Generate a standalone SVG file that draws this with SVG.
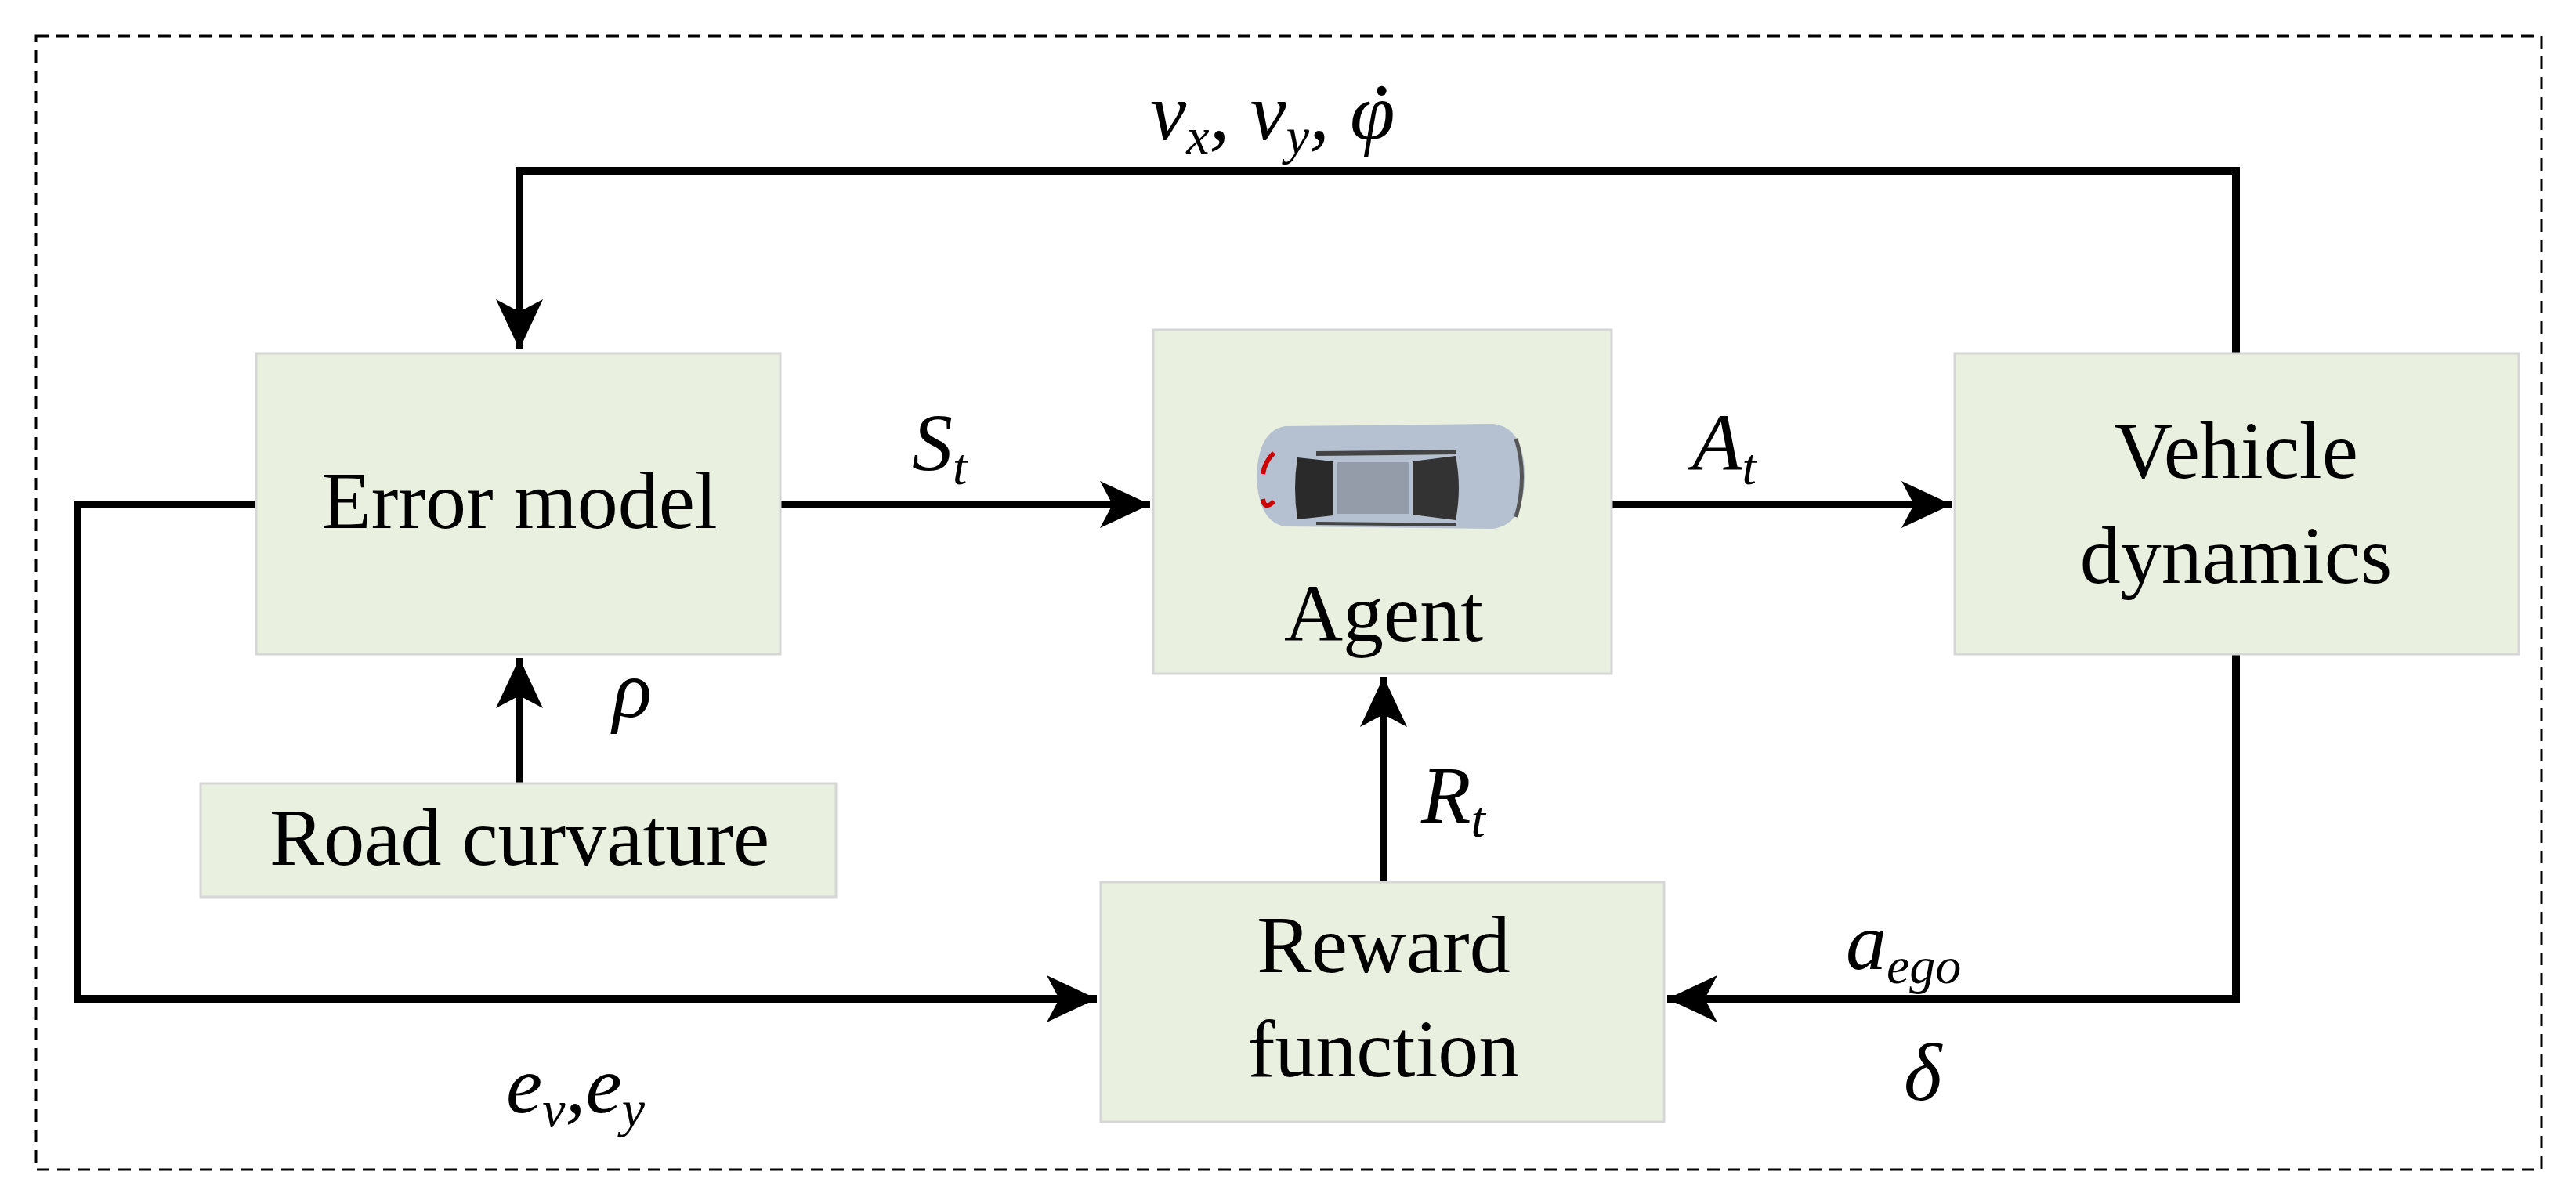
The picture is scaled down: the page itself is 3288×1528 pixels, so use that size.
<svg xmlns="http://www.w3.org/2000/svg" width="3288" height="1528" viewBox="0 0 3288 1528">
<style>
.box{fill:#EAF0DF;stroke:#d6d6d6;stroke-width:3}
.t{font-family:"Liberation Serif",serif;font-size:104px;fill:#000;text-anchor:middle}
.m{font-family:"Liberation Serif",serif;font-style:italic;font-size:104px;fill:#000}
.s{font-size:66px}
.c{fill:none;stroke:#000;stroke-width:10}
</style>
<defs>
<marker id="ah" markerUnits="userSpaceOnUse" markerWidth="66" markerHeight="60" refX="64" refY="30" orient="auto">
<path d="M0,0 L64,30 L0,60 L16,30 Z" fill="#000"/>
</marker>
</defs>
<rect x="46" y="46" width="3198" height="1447" fill="#fff" stroke="#000" stroke-width="3" stroke-dasharray="16,10"/>
<g id="connectors">
<polyline class="c" points="2854,451 2854,218 663,218 663,446" marker-end="url(#ah)"/>
<line class="c" x1="996" y1="644" x2="1468" y2="644" marker-end="url(#ah)"/>
<line class="c" x1="2057" y1="644" x2="2491" y2="644" marker-end="url(#ah)"/>
<line class="c" x1="663" y1="1000" x2="663" y2="840" marker-end="url(#ah)"/>
<line class="c" x1="1766" y1="1126" x2="1766" y2="864" marker-end="url(#ah)"/>
<polyline class="c" points="327,644 99,644 99,1275 1400,1275" marker-end="url(#ah)"/>
<polyline class="c" points="2854,835 2854,1275 2128,1275" marker-end="url(#ah)"/>
</g>
<g id="error-model"><rect class="box" x="327" y="451" width="669" height="384"/><text class="t" x="663" y="674">Error model</text></g>
<g id="agent"><rect class="box" x="1472" y="421" width="585" height="439"/>
<g id="car">
<path d="M1640,544 Q1606,550 1604,608 Q1606,666 1640,672 L1905,675 Q1946,670 1946,608 Q1946,545 1905,541 Z" fill="#B5C1D1"/>
<path d="M1626,578 Q1614,590 1612,605" stroke="#c00" stroke-width="6" fill="none"/>
<path d="M1626,640 Q1614,652 1612,637" stroke="#c00" stroke-width="6" fill="none"/>
<path d="M1656,584 L1702,589 L1702,658 L1656,663 Q1650,623 1656,584 Z" fill="#2a2a2a"/>
<path d="M1707,590 L1798,590 L1798,656 L1707,656 Z" fill="#939CA8"/>
<path d="M1803,589 L1858,582 Q1866,623 1858,664 L1803,657 Z" fill="#333"/>
<path d="M1680,576 L1858,574 L1858,580 L1680,582 Z" fill="#444"/>
<path d="M1680,666 L1858,668 L1858,672 L1680,670 Z" fill="#444"/>
<path d="M1935,560 Q1950,608 1935,660" stroke="#555" stroke-width="5" fill="none"/>
</g>
<text class="t" x="1766" y="818">Agent</text></g>
<g id="vehicle-dynamics"><rect class="box" x="2495" y="451" width="720" height="384"/><text class="t" x="2854" y="610">Vehicle</text><text class="t" x="2854" y="744">dynamics</text></g>
<g id="road-curvature"><rect class="box" x="256" y="1000" width="811" height="145"/><text class="t" x="663" y="1104">Road curvature</text></g>
<g id="reward-function"><rect class="box" x="1405" y="1126" width="719" height="306"/><text class="t" x="1766" y="1241">Reward</text><text class="t" x="1766" y="1374">function</text></g>
<g id="labels">
<text class="m" x="1468" y="178">v<tspan class="s" dy="18">x</tspan><tspan dy="-18">, v</tspan><tspan class="s" dy="18">y</tspan><tspan dy="-18">, φ</tspan></text>
<text class="m" x="1762" y="150" text-anchor="middle">·</text>
<text class="m" x="1164" y="600">S<tspan class="s" dy="18">t</tspan></text>
<text class="m" x="2160" y="600">A<tspan class="s" dy="18">t</tspan></text>
<text class="m" x="782" y="915">ρ</text>
<text class="m" x="1814" y="1050">R<tspan class="s" dy="18">t</tspan></text>
<text class="m" x="2356" y="1237">a<tspan class="s" dy="18">ego</tspan></text>
<text class="m" x="2430" y="1404">δ</text>
<text class="m" x="646" y="1420">e<tspan class="s" dy="18">v</tspan><tspan dy="-18">,e</tspan><tspan class="s" dy="18">y</tspan></text>
</g>
</svg>
